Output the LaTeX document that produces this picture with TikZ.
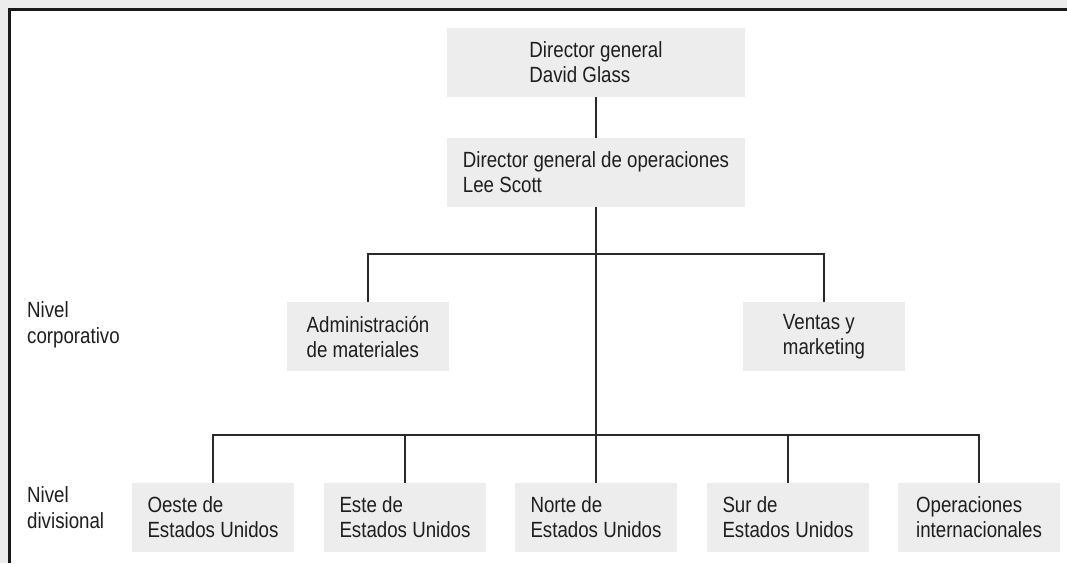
\documentclass[tikz,border=0pt]{standalone}
\usepackage{fontspec}
\setmainfont{Liberation Sans}[FakeStretch=0.85]
\definecolor{bggray}{HTML}{ECECEC}
\definecolor{boxgray}{HTML}{EDEDED}
\definecolor{txt}{HTML}{1E1E1E}
\definecolor{ln}{HTML}{2A2A2A}
\begin{document}
\begin{tikzpicture}[x=1pt,y=-1pt,
  box/.style={fill=boxgray, draw=none, minimum width=162pt, minimum height=69pt,
    inner sep=0pt, align=left, text=txt, font=\fontsize{22}{25}\selectfont},
  widebox/.style={box, minimum width=298pt},
  lbl/.style={inner sep=0pt, text=txt, font=\fontsize{22}{25}\selectfont},
  conn/.style={draw=ln, line width=1.3pt}]
\useasboundingbox (0,0) rectangle (1067,563);
\fill[bggray] (0,0) rectangle (1067,563);
\fill[white] (9.5,9.5) rectangle (1067,563);
\draw[line width=2.6pt, black!90] (9.5,563) -- (9.5,9.5) -- (1067,9.5);

\node[widebox] (dg) at (596,62.5) {Director general\\David Glass};
\node[widebox] (coo) at (596,172.5) {Director general de operaciones\\Lee Scott};
\node[box] (adm) at (368,336.5) {Administración\\de materiales};
\node[box] (ven) at (824,336.5) {Ventas y\\marketing};
\node[box] (oes) at (213,517.5) {Oeste de\\Estados Unidos};
\node[box] (est) at (405,517.5) {Este de\\Estados Unidos};
\node[box] (nor) at (596,517.5) {Norte de\\Estados Unidos};
\node[box] (sur) at (788,517.5) {Sur de\\Estados Unidos};
\node[box] (ops) at (979,517.5) {Operaciones\\internacionales};

\node[lbl, anchor=base west] (nc1) at (27,317) {Nivel};
\node[lbl, anchor=base west] (nc2) at (27,343) {corporativo};
\node[lbl, anchor=base west] (nd1) at (27,502) {Nivel};
\node[lbl, anchor=base west] (nd2) at (27,528) {divisional};

\coordinate (h1) at (596,254);
\coordinate (h2) at (596,435);
\draw[conn] (dg.south) -- (coo.south |- coo.north);
\draw[conn] (coo.south) -- (nor.north);
\draw[conn] (adm.north) |- (h1) -| (ven.north);
\draw[conn] (oes.north) |- (h2) -| (ops.north);
\draw[conn] (est.north) -- (est.north |- h2);
\draw[conn] (sur.north) -- (sur.north |- h2);
\end{tikzpicture}
\end{document}
